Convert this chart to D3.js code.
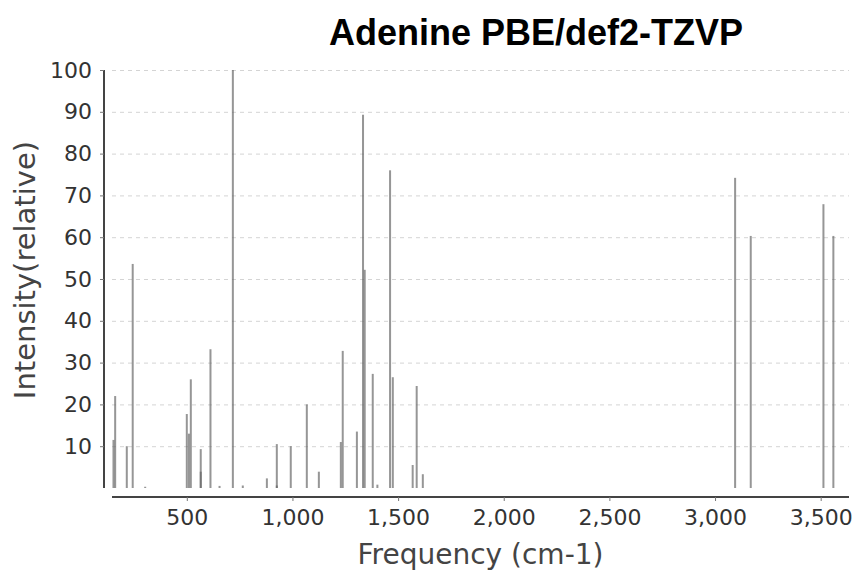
<!DOCTYPE html>
<html>
<head>
<meta charset="utf-8">
<script src="https://cdn.jsdelivr.net/npm/d3@7"></script>
<style>
  html, body { margin: 0; padding: 0; background: #fff; }
  svg { display: block; }
</style>
</head>
<body>
<svg id="chart" width="856" height="574"></svg>
<script>
// Data (frequency in cm-1, relative intensity)
const frequencies = [153, 161, 216, 244, 303, 500, 510, 519, 566, 566, 612, 655, 718, 765,
  879, 926, 926, 992, 1068, 1125, 1229, 1238, 1305, 1334, 1342, 1380, 1402, 1462, 1475,
  1569, 1588, 1617, 3095, 3169, 3513, 3560];
const intensities = [11.5, 22, 10, 53.6, 0.3, 17.7, 13, 26, 9.3, 3.9, 33.2, 0.5, 100, 0.6,
  2.3, 10.5, 0.6, 10, 20, 3.9, 11, 32.8, 13.5, 89.3, 52.2, 27.3, 0.8, 76, 26.5,
  5.5, 24.4, 3.3, 74.2, 60.3, 67.9, 60.3];
const xTicks = [500, 1000, 1500, 2000, 2500, 3000, 3500];
const yTicks = [10, 20, 30, 40, 50, 60, 70, 80, 90, 100];
const title = "Adenine PBE/def2-TZVP";
const xLabel = "Frequency (cm-1)";
const yLabel = "Intensity(relative)";

const svg = d3.select("#chart");
const plot = { left: 112, right: 849, top: 70, bottom: 488 };

const x = d3.scaleLinear().domain([146, 3634]).range([plot.left, plot.right]);
const y = d3.scaleLinear().domain([0, 100]).range([plot.bottom, plot.top]);

const font = "'DejaVu Sans', Verdana, sans-serif";

// gridlines
svg.append("g").selectAll("line").data(yTicks).join("line")
  .attr("x1", plot.left).attr("x2", plot.right)
  .attr("y1", d => y(d) + 0.5).attr("y2", d => y(d) + 0.5)
  .attr("stroke", "#d4d4d4").attr("stroke-width", 1)
  .attr("stroke-dasharray", "4,4");

// bars
const data = frequencies.map((f, i) => ({ f, v: intensities[i] }));
svg.append("g").selectAll("rect").data(data).join("rect")
  .attr("x", d => x(d.f) - 1)
  .attr("width", 2)
  .attr("y", d => y(d.v))
  .attr("height", d => y(0) - y(d.v))
  .attr("fill", "#646464")
  .attr("fill-opacity", 0.68);

// y axis
const yAxis = d3.axisLeft(y).tickValues(yTicks).tickSize(4).tickPadding(8);
const gy = svg.append("g").attr("transform", "translate(104,0)").call(yAxis);
gy.select(".domain").attr("stroke", "#444").attr("stroke-width", 2)
  .attr("d", `M0,${plot.top}V${plot.bottom}`);
gy.selectAll(".tick line").attr("stroke", "#777");
gy.selectAll(".tick text").attr("font-family", font).attr("font-size", 22)
  .attr("fill", "#333");

// x axis
const xAxis = d3.axisBottom(x).tickValues(xTicks).tickSize(4).tickPadding(8)
  .tickFormat(d3.format(","));
const gx = svg.append("g").attr("transform", "translate(0,497)").call(xAxis);
gx.select(".domain").attr("stroke", "#444").attr("stroke-width", 2)
  .attr("d", `M${plot.left},0H${plot.right}`);
gx.selectAll(".tick line").attr("stroke", "#777");
gx.selectAll(".tick text").attr("font-family", font).attr("font-size", 22)
  .attr("fill", "#333");

// title
svg.append("text")
  .attr("x", 536).attr("y", 45)
  .attr("text-anchor", "middle")
  .attr("font-family", "'Liberation Sans', Arial, sans-serif")
  .attr("font-weight", "bold")
  .attr("font-size", 36)
  .attr("fill", "#000")
  .text(title);

// axis labels
svg.append("text")
  .attr("x", (plot.left + plot.right) / 2).attr("y", 564)
  .attr("text-anchor", "middle")
  .attr("font-family", font).attr("font-size", 28)
  .attr("fill", "#444")
  .text(xLabel);

svg.append("text")
  .attr("transform", `translate(35,270) rotate(-90)`)
  .attr("text-anchor", "middle")
  .attr("font-family", font).attr("font-size", 29)
  .attr("fill", "#444")
  .text(yLabel);
</script>
</body>
</html>
